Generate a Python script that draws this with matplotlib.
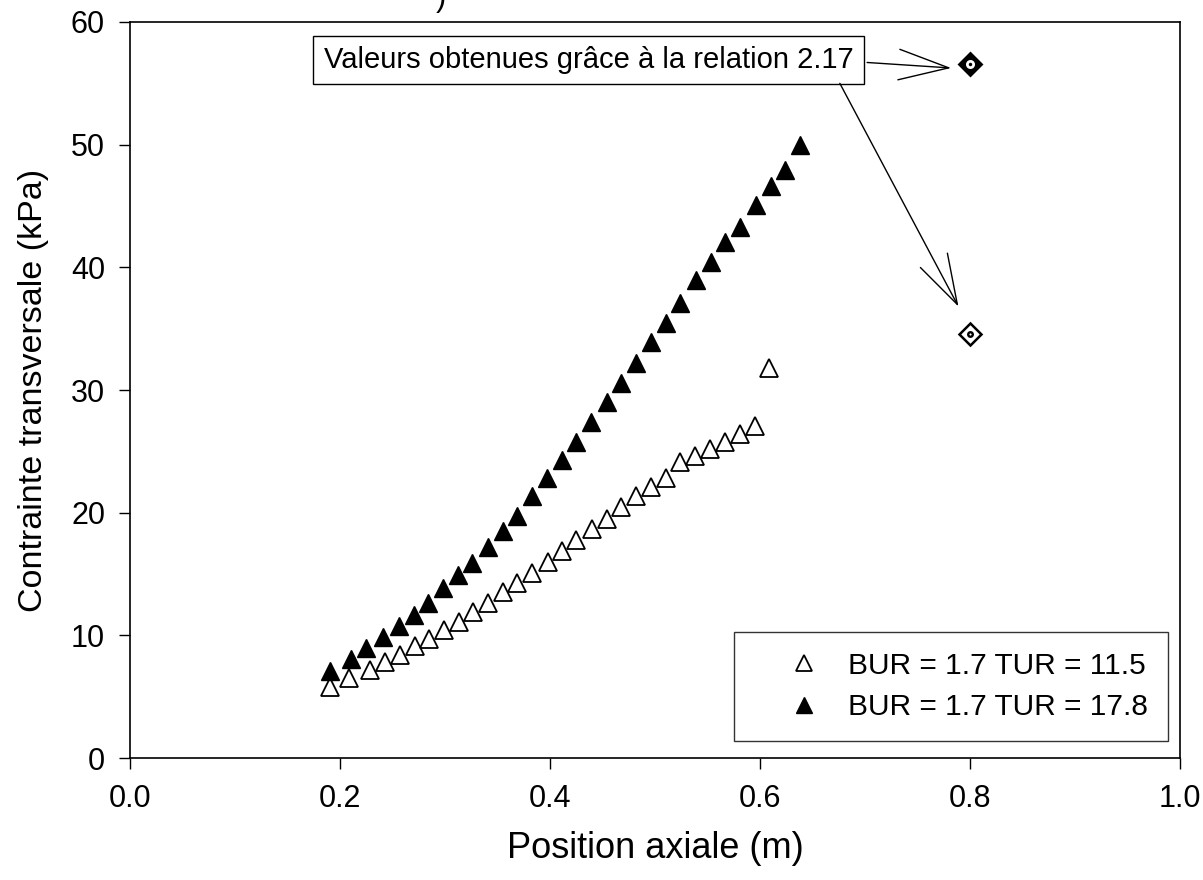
import numpy as np
import matplotlib
matplotlib.use("Agg")
import matplotlib.pyplot as plt

plt.rcParams['font.family'] = ['Liberation Sans', 'DejaVu Sans']

# BUR = 1.7 TUR = 11.5 (open triangles)
x_open = [0.190, 0.209, 0.229, 0.243, 0.257, 0.271, 0.285, 0.299, 0.313, 0.327,
          0.341, 0.355, 0.369, 0.383, 0.398, 0.411, 0.425, 0.440, 0.454, 0.468,
          0.482, 0.496, 0.510, 0.524, 0.538, 0.552, 0.567, 0.581, 0.595, 0.609]
y_open = [5.8, 6.5, 7.2, 7.8, 8.4, 9.1, 9.7, 10.4, 11.1, 11.9,
          12.6, 13.5, 14.3, 15.1, 16.0, 16.9, 17.8, 18.7, 19.5, 20.5,
          21.4, 22.1, 22.8, 24.1, 24.6, 25.2, 25.8, 26.4, 27.1, 31.8]

# BUR = 1.7 TUR = 17.8 (filled triangles)
x_fill = [0.190, 0.210, 0.225, 0.241, 0.256, 0.270, 0.284, 0.298, 0.312, 0.326,
          0.341, 0.355, 0.369, 0.383, 0.397, 0.411, 0.425, 0.439, 0.454, 0.468,
          0.482, 0.496, 0.510, 0.524, 0.539, 0.553, 0.567, 0.581, 0.596, 0.610,
          0.624, 0.638]
y_fill = [7.1, 8.1, 9.0, 9.9, 10.8, 11.7, 12.6, 13.9, 14.9, 15.9,
          17.2, 18.5, 19.7, 21.4, 22.8, 24.3, 25.8, 27.4, 29.0, 30.6,
          32.2, 33.9, 35.5, 37.1, 39.0, 40.4, 42.1, 43.3, 45.1, 46.6,
          47.9, 50.0]

# values from relation 2.17
x_rel = [0.8, 0.8]
y_rel = [56.6, 34.6]

fig = plt.figure(figsize=(12.03, 8.8), dpi=100)
ax = fig.add_axes([0.1081, 0.1386, 0.8728, 0.8364])

ax.plot(x_open, y_open, linestyle='none', marker='^', ms=13, mfc='white',
        mec='black', mew=1.3, label='BUR = 1.7 TUR = 11.5')
ax.plot(x_fill, y_fill, linestyle='none', marker='^', ms=13, mfc='black',
        mec='black', mew=1.0, label='BUR = 1.7 TUR = 17.8')

# relation 2.17 points: diamond with small circle inside
ax.plot(x_rel[0], y_rel[0], marker='D', ms=11.5, mfc='black', mec='black', mew=2)
ax.plot(x_rel[0], y_rel[0], marker='o', ms=6.5, mfc='white', mec='none')
ax.plot(x_rel[0], y_rel[0], marker='o', ms=2.5, mfc='black', mec='none')
ax.plot(x_rel[1], y_rel[1], marker='D', ms=11.5, mfc='white', mec='black', mew=1.8)
ax.plot(x_rel[1], y_rel[1], marker='o', ms=5, mfc='black', mec='none')
ax.plot(x_rel[1], y_rel[1], marker='o', ms=1.5, mfc='white', mec='none')

ax.text(0.4367, 56.9, 'Valeurs obtenues grâce à la relation 2.17', fontsize=21,
        ha='center', va='center',
        bbox=dict(boxstyle='square,pad=0.35', fc='white', ec='black', lw=1))
arrow = dict(arrowstyle='->,head_length=1.8,head_width=0.55', color='black',
             lw=1, shrinkA=0, shrinkB=0, mutation_scale=20)
ax.annotate('', xy=(0.782, 56.25), xytext=(0.702, 56.7), arrowprops=arrow)
ax.annotate('', xy=(0.789, 36.8), xytext=(0.676, 55.0), arrowprops=arrow)

ax.set_xlim(0, 1.0)
ax.set_ylim(0, 60)
ax.set_xticks(np.arange(0, 1.01, 0.2))
ax.set_xticklabels(['0.0', '0.2', '0.4', '0.6', '0.8', '1.0'])
ax.set_yticks(np.arange(0, 61, 10))
ax.tick_params(direction='out', length=8, width=1, labelsize=22)
ax.tick_params(axis='x', pad=11)
ax.tick_params(axis='y', pad=10)
for s in ax.spines.values():
    s.set_linewidth(1.2)

ax.set_xlabel('Position axiale (m)', fontsize=26, labelpad=12)
ax.set_ylabel('Contrainte transversale (kPa)', fontsize=24.5, labelpad=16)

leg = ax.legend(loc='lower right', bbox_to_anchor=(0.9886, 0.0231),
                borderaxespad=0, fontsize=21.5, frameon=True, fancybox=False,
                edgecolor='black', handlelength=3.38, handletextpad=-0.22,
                borderpad=0.67, labelspacing=0.45, markerscale=0.9)
leg.get_frame().set_linewidth(1)

# cut-off text at the top edge
fig.text(0.362, 0.993, ')', fontsize=22, ha='left', va='baseline')

fig.savefig('out.png', dpi=100)
